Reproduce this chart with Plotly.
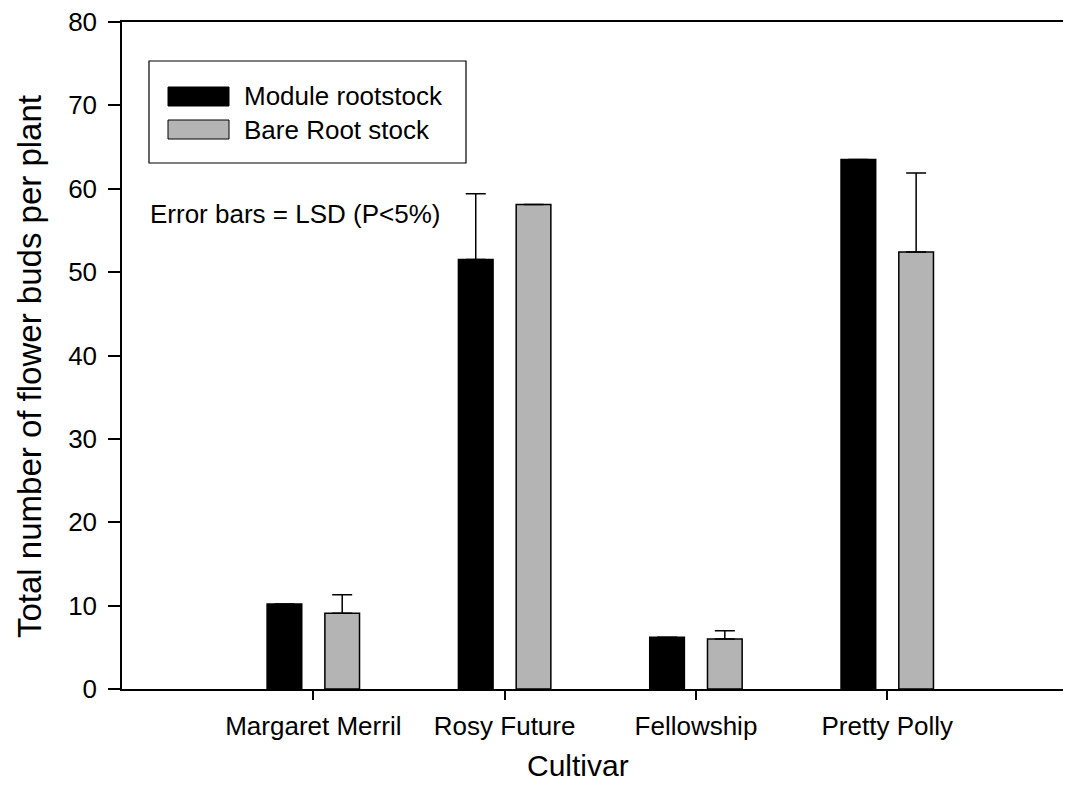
import plotly.graph_objects as go

cultivars = ["Margaret Merril", "Rosy Future", "Fellowship", "Pretty Polly"]
module_vals = [10.2, 51.5, 6.2, 63.5]
bare_vals = [9.1, 58.1, 6.0, 52.4]
module_err = [None, 7.9, None, None]
bare_err = [2.2, None, 1.0, 9.5]
y_ticks = [0, 10, 20, 30, 40, 50, 60, 70, 80]

FONT = "Liberation Sans, Arial, Helvetica, sans-serif"
# page body has an 8px margin; compensate so the plot lands at the intended pixels
OFF = 8
W, H = 1071 - OFF, 796 - OFF
PL, PR, PT, PB = 122, 1069, 22, 689          # plot area in page pixels
L, T = PL - OFF, PT - OFF
R = (W + OFF) - PR
B = (H + OFF) - PB
PW, PH = PR - PL, PB - PT

def px(X):
    return (X - PL) / PW

def py(Y):
    return (PB - Y) / PH

GRAY = "#b4b4b4"

fig = go.Figure()
fig.add_trace(go.Bar(
    x=cultivars, y=module_vals, name="Module rootstock",
    marker=dict(color="black", line=dict(color="black", width=1.5)),
    error_y=dict(type="data", array=module_err, arrayminus=[0]*4, symmetric=False,
                 color="black", thickness=1.5, width=10),
))
fig.add_trace(go.Bar(
    x=cultivars, y=bare_vals, name="Bare Root stock",
    marker=dict(color=GRAY, line=dict(color="black", width=1.5)),
    error_y=dict(type="data", array=bare_err, arrayminus=[0]*4, symmetric=False,
                 color="black", thickness=1.5, width=10),
))

shapes = [
    dict(type="rect", xref="paper", yref="paper", x0=px(149), x1=px(466), y0=py(163), y1=py(61),
         line=dict(color="black", width=1.2), fillcolor="white"),
    dict(type="rect", xref="paper", yref="paper", x0=px(168), x1=px(229), y0=py(106), y1=py(87),
         line=dict(color="black", width=1), fillcolor="black"),
    dict(type="rect", xref="paper", yref="paper", x0=px(168), x1=px(229), y0=py(139), y1=py(120),
         line=dict(color="black", width=1), fillcolor=GRAY),
]
annotations = [
    dict(text="Module rootstock", xref="paper", yref="paper", x=px(242), y=py(96),
         xanchor="left", yanchor="middle", showarrow=False, font=dict(family=FONT, size=26, color="black")),
    dict(text="Bare Root stock", xref="paper", yref="paper", x=px(242), y=py(130),
         xanchor="left", yanchor="middle", showarrow=False, font=dict(family=FONT, size=26, color="black")),
    dict(text="Error bars = LSD (P<5%)", xref="paper", yref="paper", x=px(148), y=py(214),
         xanchor="left", yanchor="middle", showarrow=False, font=dict(family=FONT, size=26, color="black")),
    dict(text="Total number of flower buds per plant", xref="paper", yref="paper", x=px(30), y=py(367),
         xanchor="center", yanchor="middle", textangle=-90, showarrow=False,
         font=dict(family=FONT, size=33, color="black")),
    dict(text="Cultivar", xref="paper", yref="paper", x=px(578), y=py(765),
         xanchor="center", yanchor="middle", showarrow=False,
         font=dict(family=FONT, size=30, color="black")),
]

fig.update_layout(
    width=W, height=H,
    margin=dict(l=L, r=R, t=T, b=B, autoexpand=False),
    plot_bgcolor="white", paper_bgcolor="white",
    barmode="group", bargap=0.396, bargroupgap=0.4,
    font=dict(family=FONT, color="black"),
    shapes=shapes, annotations=annotations,
    showlegend=False,
)
fig.update_xaxes(
    range=[-1, 3.95], showline=True, linecolor="black", linewidth=1.5, mirror=True,
    ticks="outside", ticklen=9, tickwidth=1.5, tickcolor="black", ticklabelstandoff=4,
    ticklabeloverflow="allow",
    tickfont=dict(family=FONT, size=26), showgrid=False, zeroline=False,
)
fig.update_yaxes(
    range=[0, 80], tickvals=y_ticks, showline=True, linecolor="black", linewidth=1.5,
    ticks="outside", ticklen=12, tickwidth=1.5, tickcolor="black", ticklabelstandoff=6,
    ticklabeloverflow="allow",
    tickfont=dict(family=FONT, size=26), showgrid=False, zeroline=False,
)

fig.write_html("out.html")
